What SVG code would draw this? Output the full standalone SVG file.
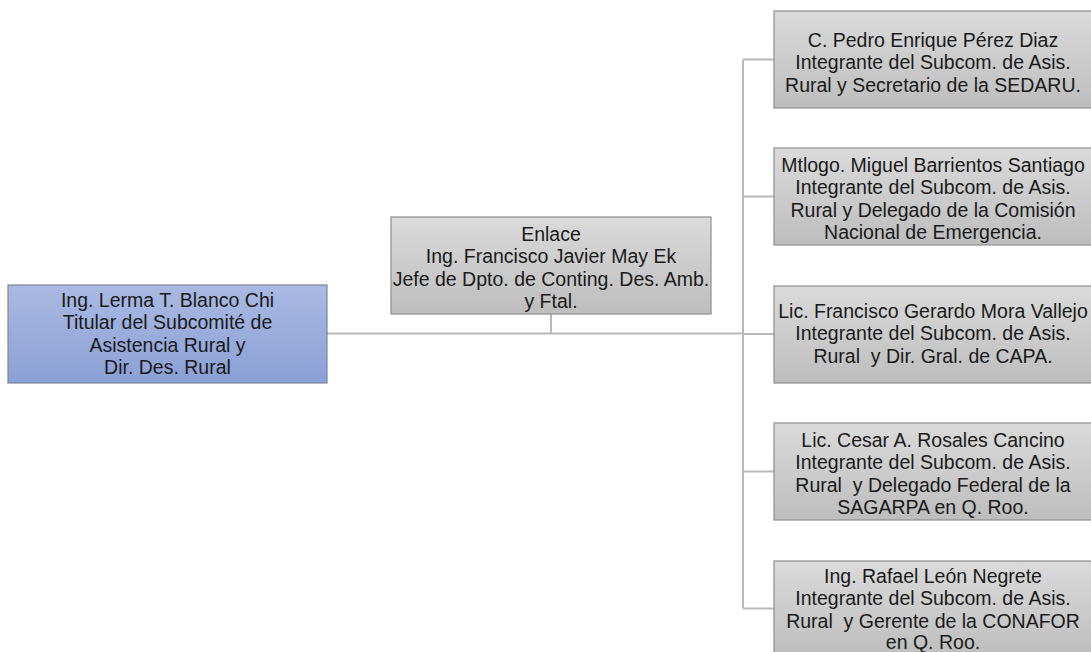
<svg xmlns="http://www.w3.org/2000/svg" width="1091" height="652" viewBox="0 0 1091 652">
<defs>
<linearGradient id="gGray" x1="0" y1="0" x2="0" y2="1">
<stop offset="0" stop-color="#dadada"/>
<stop offset="1" stop-color="#bdbdbd"/>
</linearGradient>
<linearGradient id="gBlue" x1="0" y1="0" x2="0" y2="1">
<stop offset="0" stop-color="#a9b9e2"/>
<stop offset="1" stop-color="#8aa0d6"/>
</linearGradient>
</defs>
<style>
.box{fill:url(#gGray);stroke:#8e8e8e;stroke-width:1.2}
.blue{fill:url(#gBlue);stroke:#7d8797;stroke-width:1.2}
.t{font-family:"Liberation Sans",Arial,sans-serif;font-size:19.5px;fill:#1a1a1a;text-anchor:middle;white-space:pre}
.c{fill:none;stroke:#b9b9b9;stroke-width:2}
</style>
<rect width="1091" height="652" fill="#ffffff"/>
<g id="connectors">
<path class="c" d="M327,333.5 H743"/>
<path class="c" d="M551,314 V333.5"/>
<path class="c" d="M743,59.5 V608.5"/>
<path class="c" d="M743,59.5 H774"/>
<path class="c" d="M743,196.5 H774"/>
<path class="c" d="M743,334 H774"/>
<path class="c" d="M743,471.5 H774"/>
<path class="c" d="M743,608.5 H774"/>
</g>
<g id="n-titular">
<rect class="blue" x="8" y="285" width="319" height="98"/>
<text class="t" x="167.5" y="306.5">Ing. Lerma T. Blanco Chi</text>
<text class="t" x="167.5" y="329">Titular del Subcomité de</text>
<text class="t" x="167.5" y="351.5">Asistencia Rural y</text>
<text class="t" x="167.5" y="374">Dir. Des. Rural</text>
</g>
<g id="n-enlace">
<rect class="box" x="391" y="217" width="320" height="97"/>
<text class="t" x="551" y="240.5">Enlace</text>
<text class="t" x="551" y="263">Ing. Francisco Javier May Ek</text>
<text class="t" x="551" y="285.5">Jefe de Dpto. de Conting. Des. Amb.</text>
<text class="t" x="551" y="308">y Ftal.</text>
</g>
<g id="n-pedro">
<rect class="box" x="774" y="11" width="319" height="97"/>
<text class="t" x="933" y="46.5">C. Pedro Enrique Pérez Diaz</text>
<text class="t" x="933" y="69">Integrante del Subcom. de Asis.</text>
<text class="t" x="933" y="91.5">Rural y Secretario de la SEDARU.</text>
</g>
<g id="n-miguel">
<rect class="box" x="774" y="148" width="319" height="97"/>
<text class="t" x="933" y="171.5">Mtlogo. Miguel Barrientos Santiago</text>
<text class="t" x="933" y="194">Integrante del Subcom. de Asis.</text>
<text class="t" x="933" y="216.5">Rural y Delegado de la Comisión</text>
<text class="t" x="933" y="239">Nacional de Emergencia.</text>
</g>
<g id="n-francisco">
<rect class="box" x="774" y="286" width="319" height="97"/>
<text class="t" x="933" y="317.5">Lic. Francisco Gerardo Mora Vallejo</text>
<text class="t" x="933" y="340">Integrante del Subcom. de Asis.</text>
<text class="t" x="933" y="362.5">Rural  y Dir. Gral. de CAPA.</text>
</g>
<g id="n-cesar">
<rect class="box" x="774" y="423" width="319" height="97"/>
<text class="t" x="933" y="446.5">Lic. Cesar A. Rosales Cancino</text>
<text class="t" x="933" y="469">Integrante del Subcom. de Asis.</text>
<text class="t" x="933" y="491.5">Rural  y Delegado Federal de la</text>
<text class="t" x="933" y="514">SAGARPA en Q. Roo.</text>
</g>
<g id="n-rafael">
<rect class="box" x="774" y="561" width="319" height="97"/>
<text class="t" x="933" y="582.5">Ing. Rafael León Negrete</text>
<text class="t" x="933" y="605">Integrante del Subcom. de Asis.</text>
<text class="t" x="933" y="627.5">Rural  y Gerente de la CONAFOR</text>
<text class="t" x="933" y="649">en Q. Roo.</text>
</g>
</svg>
